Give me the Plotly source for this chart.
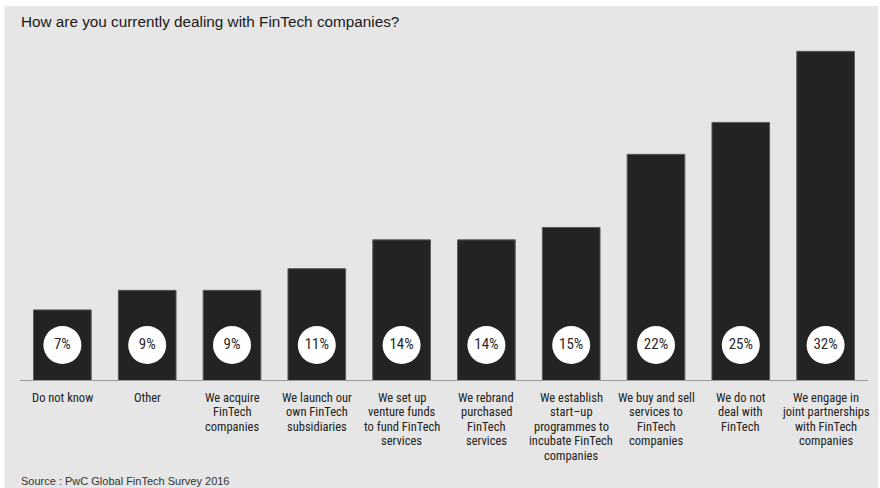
import plotly.graph_objects as go

categories = [
    "Do not know",
    "Other",
    "We acquire<br>FinTech<br>companies",
    "We launch our<br>own FinTech<br>subsidiaries",
    "We set up<br>venture funds<br>to fund FinTech<br>services",
    "We rebrand<br>purchased<br>FinTech<br>services",
    "We establish<br>start\u2013up<br>programmes to<br>incubate FinTech<br>companies",
    "We buy and sell<br>services to<br>FinTech<br>companies",
    "We do not<br>deal with<br>FinTech",
    "We engage in<br>joint partnerships<br>with FinTech<br>companies",
]
# bar heights; labels as printed
values = [6.9, 8.8, 8.8, 10.9, 13.7, 13.7, 14.9, 22.0, 25.1, 32.0]
labels = ["7%", "9%", "9%", "11%", "14%", "14%", "15%", "22%", "25%", "32%"]

title_text = "How are you currently dealing with FinTech companies?"
source_text = "Source : PwC Global FinTech Survey 2016"

W, H = 880, 488
ML, MR, MT, MB = 19.5, 11.5, 41, 107
BG = "#e6e6e6"
NARROW = "Liberation Sans Narrow, Arial Narrow, Roboto Condensed, sans-serif"
LINE_GAP = 14.5
FIRST_LINE = 16

x = list(range(len(categories)))
circle_y = [3.5] * len(values)

fig = go.Figure()
fig.add_trace(go.Bar(
    x=x, y=values,
    marker=dict(color="#232323", line=dict(color="#5a5a5a", width=1)),
    width=0.68, hoverinfo="skip",
))
fig.add_trace(go.Scatter(
    x=x, y=circle_y, mode="markers+text",
    marker=dict(size=38, color="white", line=dict(width=0)),
    text=labels, textposition="middle center",
    textfont=dict(family=NARROW, size=15, color="#2a2a2a"),
    hoverinfo="skip",
))

pw = W - ML - MR
ph = H - MT - MB
# gray panel inside a thin white border (paper coords)
fig.add_shape(type="rect", xref="paper", yref="paper", layer="below",
              x0=(4 - ML) / pw, x1=(W - 1 - ML) / pw,
              y0=-MB / ph, y1=1 + (MT - 6) / ph,
              fillcolor=BG, line=dict(width=0))
# baseline
fig.add_shape(type="line", xref="paper", yref="y", x0=0, x1=1, y0=0, y1=0,
              line=dict(color="#9a9a9a", width=2))

# category labels, one annotation per line for tight line spacing
for i, cat in enumerate(categories):
    for k, line in enumerate(cat.split("<br>")):
        fig.add_annotation(text=line, x=i, y=0, xref="x", yref="y",
                           xanchor="center", yanchor="middle", showarrow=False,
                           yshift=-(FIRST_LINE + LINE_GAP * k),
                           font=dict(family=NARROW, size=12.5, color="#222222"))

fig.add_annotation(text=title_text, xref="paper", yref="paper",
                   x=(18 - ML) / pw, y=1 + (MT - 22) / ph, xanchor="left", yanchor="middle",
                   showarrow=False, font=dict(family="Liberation Sans, Arial, sans-serif", size=15.3, color="#1a1a1a"))
fig.add_annotation(text=source_text, xref="paper", yref="paper",
                   x=(18 - ML) / pw, y=-(481 - (H - MB)) / ph, xanchor="left", yanchor="middle",
                   showarrow=False, font=dict(family="Liberation Sans, Arial, sans-serif", size=11, color="#333333"))

fig.update_layout(
    width=W, height=H,
    margin=dict(l=ML, r=MR, t=MT, b=MB, pad=0, autoexpand=False),
    paper_bgcolor="white", plot_bgcolor=BG,
    showlegend=False, bargap=0.32,
    xaxis=dict(range=[-0.5, 9.5], showgrid=False, showticklabels=False,
               zeroline=False, showline=False, ticks="", automargin=False, fixedrange=True),
    yaxis=dict(range=[0, 33], showgrid=False, zeroline=False, showticklabels=False,
               showline=False, fixedrange=True, automargin=False),
)

fig.write_html("out.html", config={"displayModeBar": False},
               post_script="document.body.style.margin='0';document.body.style.padding='0';")
